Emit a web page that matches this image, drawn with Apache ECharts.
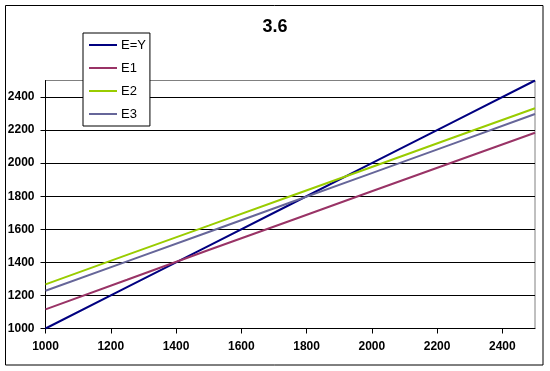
<!DOCTYPE html>
<html>
<head>
<meta charset="utf-8">
<script src="https://cdn.jsdelivr.net/npm/echarts@6/dist/echarts.min.js"></script>
<style>
html,body{margin:0;padding:0;background:#fff;}
#chart{width:550px;height:371px;}
</style>
</head>
<body>
<div id="chart"></div>
<script>
// Data
const xValues = [1000, 1250, 1500, 1750, 2000, 2250, 2500];
const seriesNames = ['E=Y', 'E1', 'E2', 'E3'];
const eY = [1000, 1250, 1500, 1750, 2000, 2250, 2500];
const e1 = [1116, 1295, 1475, 1652, 1830, 2007, 2184];
const e2 = [1267, 1445, 1622, 1800, 1977, 2155, 2332];
const e3 = [1228, 1406, 1584, 1762, 1940, 2118, 2297];
const xTicks = [1000, 1200, 1400, 1600, 1800, 2000, 2200, 2400];
const yTicks = [1000, 1200, 1400, 1600, 1800, 2000, 2200, 2400];
const titleText = '3.6';

const colors = ['#000080', '#993366', '#99CC00', '#666699'];
const FONT = '"Liberation Sans", Arial, sans-serif';
const values = [eY, e1, e2, e3];

function pairs(arr) { return xValues.map((x, i) => [x, arr[i]]); }

const chart = echarts.init(document.getElementById('chart'), null, {renderer: 'canvas'});
chart.setOption({
  animation: false,
  backgroundColor: '#ffffff',
  color: colors,
  title: {
    text: titleText,
    left: 'center',
    top: 18,
    padding: 0,
    textStyle: {fontFamily: FONT, fontSize: 18, fontWeight: 'bold', color: '#000'}
  },
  graphic: [{
    type: 'rect',
    shape: {x: 5.5, y: 5.5, width: 537.5, height: 359.5},
    style: {fill: null, stroke: '#000', lineWidth: 1},
    silent: true,
    z: 100
  }],
  legend: {
    orient: 'vertical',
    left: 83,
    top: 33,
    padding: [5, 4, 5, 6],
    itemGap: 9,
    itemWidth: 28,
    itemHeight: 2,
    borderColor: '#000',
    borderWidth: 1,
    backgroundColor: '#fff',
    z: 10,
    data: seriesNames.map(n => ({name: n, icon: 'rect'})),
    textStyle: {fontFamily: FONT, fontSize: 13, color: '#000', lineHeight: 14, padding: [0, 0, 0, -1]}
  },
  grid: {
    left: 45.5, top: 80.5, right: 15, bottom: 42.5,
    show: true, borderColor: '#808080', borderWidth: 1, backgroundColor: 'transparent'
  },
  xAxis: {
    type: 'value',
    min: 1000, max: 2500, interval: 200,
    axisLine: {show: true, onZero: false, lineStyle: {color: '#000', width: 1}},
    axisTick: {show: true, length: 5, lineStyle: {color: '#000'}},
    axisLabel: {
      margin: 12, showMaxLabel: false,
      fontFamily: FONT, fontSize: 12, fontWeight: 'bold', color: '#000',
      formatter: v => (xTicks.indexOf(v) >= 0 ? String(v) : '')
    },
    splitLine: {show: false}
  },
  yAxis: {
    type: 'value',
    min: 1000, max: 2500, interval: 200,
    axisLine: {show: true, onZero: false, lineStyle: {color: '#000', width: 1}},
    axisTick: {show: true, length: 5, lineStyle: {color: '#000'}},
    axisLabel: {
      margin: 11, showMaxLabel: false,
      fontFamily: FONT, fontSize: 12, fontWeight: 'bold', color: '#000',
      formatter: v => (yTicks.indexOf(v) >= 0 ? String(v) : '')
    },
    splitLine: {show: true, lineStyle: {color: ['#000','#000','#000','#000','#000','#000','#000','#000','#808080'], width: 1}}
  },
  series: seriesNames.map((n, i) => ({
    name: n,
    type: 'line',
    data: pairs(values[i]),
    symbol: 'none',
    smooth: false,
    lineStyle: {width: 2, color: colors[i]},
    itemStyle: {color: colors[i]},
    z: 3
  }))
});
</script>
</body>
</html>
